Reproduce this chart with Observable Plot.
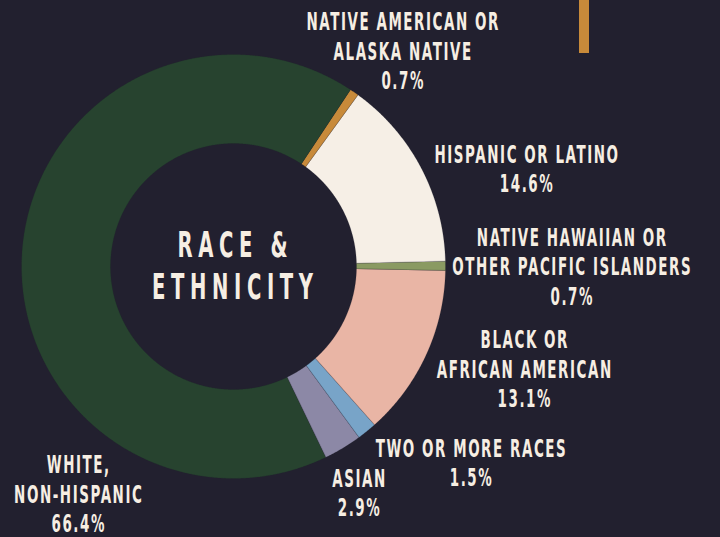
<!DOCTYPE html>
<html>
<head>
<meta charset="utf-8">
<script src="https://cdn.jsdelivr.net/npm/d3@7"></script>
<script src="https://cdn.jsdelivr.net/npm/@observablehq/plot@0.6"></script>
<style>
  html, body { margin: 0; padding: 0; background: #22202f; }
  #wrap { position: relative; width: 720px; height: 537px; overflow: hidden; }
  #bar { position: absolute; left: 579px; top: 0; width: 10px; height: 53px; background: #c88a3a; }
  g.lbl text { letter-spacing: 2.8px; }
  g.ttl text { letter-spacing: 10px; }
</style>
</head>
<body>
<div id="wrap"><div id="bar"></div></div>
<script>
// ---- data ----
const categories = [
  "NATIVE AMERICAN OR\nALASKA NATIVE",
  "HISPANIC OR LATINO",
  "NATIVE HAWAIIAN OR\nOTHER PACIFIC ISLANDERS",
  "BLACK OR\nAFRICAN AMERICAN",
  "TWO OR MORE RACES",
  "ASIAN",
  "WHITE,\nNON-HISPANIC"
];
const shares = [0.7, 14.6, 0.7, 13.1, 1.5, 2.9, 66.4];
const sliceColors = ["#c88a3a", "#f6efe6", "#8a9a62", "#e9b5a5", "#78a4c8", "#8c88a6", "#27432f"];
const centerTitle = "RACE &\nETHNICITY";

// ---- layout (styling only) ----
const startDeg = 33.5;
const outerR = 1, innerR = 123 / 212;
const labelNudge = [[48, -42], [105, 0], [126, 0], [98, 13], [104, 31], [16, 44], [56, 241]];
const bg = "#22202f", ink = "#f6eee3";
const labelScale = 0.56, titleScale = 0.56;

const rows = categories.map((name, i) => ({name, value: shares[i]}));
const pie = d3.pie().sort(null).value(d => d.value)
  .startAngle(startDeg * Math.PI / 180)
  .endAngle(startDeg * Math.PI / 180 + 2 * Math.PI);
const arcs = pie(rows);

const pts = [];
arcs.forEach(a => {
  const n = Math.max(2, Math.ceil((a.endAngle - a.startAngle) / (Math.PI / 720)));
  for (let k = 0; k <= n; k++) {
    const t = a.startAngle + (a.endAngle - a.startAngle) * k / n;
    pts.push({name: a.data.name, x: outerR * Math.sin(t), y: outerR * Math.cos(t)});
  }
  for (let k = n; k >= 0; k--) {
    const t = a.startAngle + (a.endAngle - a.startAngle) * k / n;
    pts.push({name: a.data.name, x: innerR * Math.sin(t), y: innerR * Math.cos(t)});
  }
});

const labels = arcs.map((a, i) => {
  const m = (a.startAngle + a.endAngle) / 2;
  return {
    x: outerR * Math.sin(m), y: outerR * Math.cos(m),
    text: a.data.name + "\n" + a.data.value.toFixed(1) + "%",
    dx: labelNudge[i][0], dy: labelNudge[i][1]
  };
});

const W = 720, H = 537, cx = 233, cy = 266, R = 212;
const font = "'DejaVu Sans', sans-serif";

const chart = Plot.plot({
  width: W, height: H,
  margin: 0,
  style: {background: "transparent"},
  x: {domain: [-cx / R, (W - cx) / R], axis: null},
  y: {domain: [(cy - H) / R, cy / R], axis: null},
  color: {domain: categories, range: sliceColors},
  marks: [
    Plot.line(pts, {x: "x", y: "y", z: "name", fill: "name", stroke: bg, strokeWidth: 0.6, strokeOpacity: 0.3, curve: "linear-closed"}),
    ...labels.map(l => Plot.text([l], {
      x: "x", y: "y", text: "text", dx: l.dx + 2.8 * labelScale / 2, dy: l.dy,
      fill: ink, fontSize: 24, fontWeight: "bold", fontFamily: font,
      lineHeight: 1.22, textAnchor: "middle", lineAnchor: "middle",
      className: "lbl"
    })),
    Plot.text([centerTitle], {
      x: () => 0, y: () => 0, text: d => d, dx: 10 * titleScale / 2 - 1, dy: -2,
      fill: ink, fontSize: 35, fontWeight: "bold", fontFamily: font,
      lineHeight: 1.2, textAnchor: "middle", lineAnchor: "middle",
      className: "ttl"
    })
  ]
});
// narrow the glyphs horizontally to mimic the condensed display face
chart.querySelectorAll("g.lbl text").forEach(t => t.setAttribute("transform", (t.getAttribute("transform") || "") + ` scale(${labelScale},1)`));
chart.querySelectorAll("g.ttl text").forEach(t => t.setAttribute("transform", (t.getAttribute("transform") || "") + ` scale(${titleScale},1)`));
document.getElementById("wrap").appendChild(chart);
</script>
</body>
</html>
